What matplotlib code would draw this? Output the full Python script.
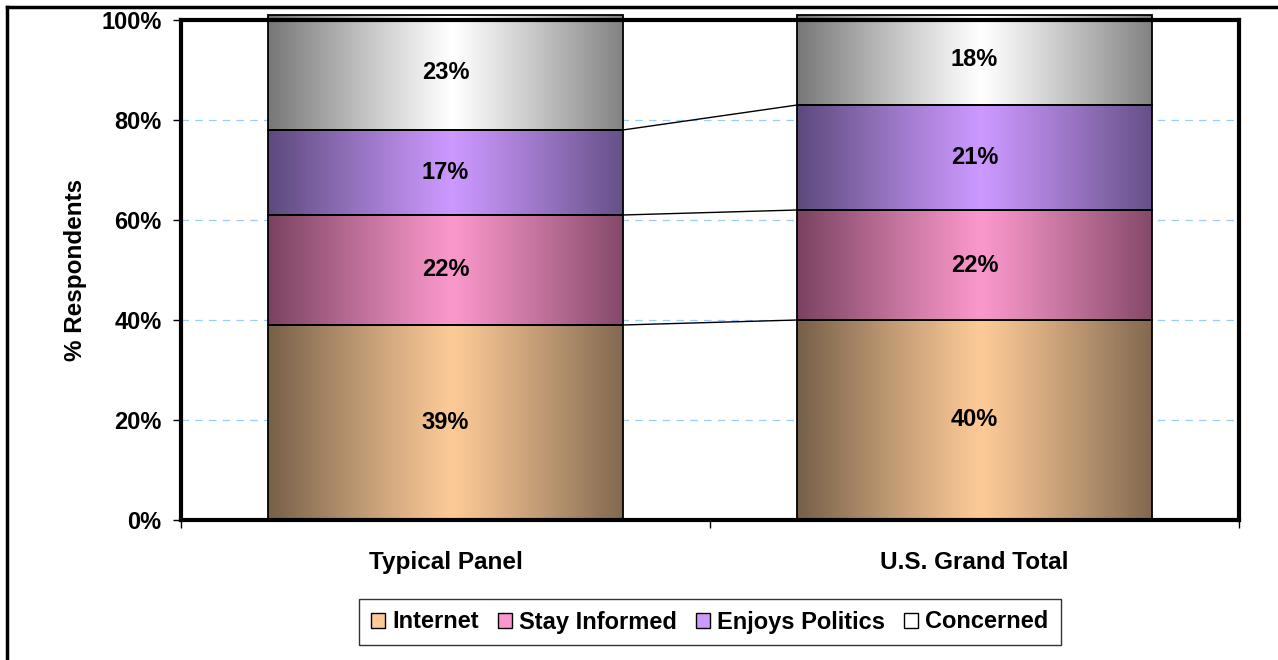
import numpy as np
import matplotlib
matplotlib.use("Agg")
import matplotlib.pyplot as plt
from matplotlib.colors import to_rgb
from matplotlib.patches import Patch
from matplotlib.lines import Line2D
from matplotlib.ticker import FixedLocator, PercentFormatter

# ---- data ----
categories = ["Typical Panel", "U.S. Grand Total"]
series_names = ["Internet", "Stay Informed", "Enjoys Politics", "Concerned"]
internet = [39, 40]
stay_informed = [22, 22]
enjoys_politics = [17, 21]
concerned = [23, 18]
yticks = [0, 20, 40, 60, 80, 100]

values = [internet, stay_informed, enjoys_politics, concerned]
center_colors = ["#FDCA97", "#FA98CB", "#CC99FF", "#FFFFFF"]
edge_colors = ["#766049", "#7A4260", "#5C4A7C", "#777777"]

plt.rcParams['font.family'] = ['Liberation Sans', 'DejaVu Sans']
plt.rcParams['font.weight'] = 'bold'

fig = plt.figure(figsize=(12.78, 6.6), dpi=100)
ax = fig.add_axes([181 / 1278, 1 - 520 / 660, (1239 - 181) / 1278, 500 / 660])

x = np.arange(len(categories))
width = 0.67

# gridlines
for yv in yticks[1:-1]:
    ax.axhline(yv, color="#99CCFF", lw=0.9, ls=(0, (6, 5)), zorder=0)

def gradient_rgba(c_center, c_edge, n=256):
    t = np.linspace(0, 1, n)
    d = np.abs(t - 0.52) / 0.52
    d = np.clip(d, 0, 1) ** 1.1
    cc = np.array(to_rgb(c_center))
    ce = np.array(to_rgb(c_edge))
    cols = cc[None, :] * (1 - d[:, None]) + ce[None, :] * d[:, None]
    return cols[None, :, :]

bottoms = np.zeros(len(categories))
tops_list = []
for i, (name, vals) in enumerate(zip(series_names, values)):
    vals = np.array(vals, dtype=float)
    bars = ax.bar(x, vals, width, bottom=bottoms, facecolor="none",
                  edgecolor="black", linewidth=1.3, zorder=3, clip_on=False)
    img = gradient_rgba(center_colors[i], edge_colors[i])
    for b in bars:
        x0, y0 = b.get_x(), b.get_y()
        ax.imshow(img, extent=[x0, x0 + b.get_width(), y0, y0 + b.get_height()],
                  aspect='auto', zorder=2, interpolation='bilinear', clip_on=False)
        ax.text(x0 + b.get_width() / 2, y0 + b.get_height() / 2,
                f"{int(round(b.get_height()))}%", ha='center', va='center',
                fontsize=17, fontweight='bold', zorder=5)
    bottoms = bottoms + vals
    tops_list.append(bottoms.copy())

# series lines
for tops in tops_list[:-1]:
    ax.plot([x[0] + width / 2, x[1] - width / 2], [tops[0], tops[1]],
            color='black', lw=1.0, zorder=4)

ax.set_xlim(-0.5, 1.5)
ax.set_ylim(0, 100)

# axes styling
for s in ax.spines.values():
    s.set_linewidth(3)
    s.set_color('black')
    s.set_zorder(6)

ax.yaxis.set_major_locator(FixedLocator(yticks))
ax.yaxis.set_major_formatter(PercentFormatter(decimals=0))
ax.tick_params(axis='y', direction='out', length=6, width=1, labelsize=17, pad=8)
ax.set_xticks(x)
ax.set_xticklabels(categories, fontsize=17.5, fontweight='bold')
ax.tick_params(axis='x', which='major', length=0, pad=22)
ax.set_xticks([-0.5, 0.5, 1.5], minor=True)
ax.tick_params(axis='x', which='minor', direction='out', length=6, width=1)
for lab in ax.get_yticklabels():
    lab.set_fontweight('bold')
ax.set_ylabel("% Respondents", fontsize=17.5, fontweight='bold', labelpad=10)

# legend
handles = [Patch(facecolor=center_colors[i], edgecolor='black', linewidth=1.0)
           for i in range(len(series_names))]
leg = fig.legend(handles, series_names, loc='center', bbox_to_anchor=(710 / 1278, 1 - 622 / 660),
                 ncol=4, frameon=True, fancybox=False, shadow=False, fontsize=17,
                 handlelength=0.6, handleheight=0.6, handletextpad=0.3, columnspacing=0.8,
                 borderpad=0.5, borderaxespad=0)
leg.get_frame().set_edgecolor('black')
leg.get_frame().set_linewidth(1.0)
for t in leg.get_texts():
    t.set_fontweight('bold')

# figure frame (left and top lines)
fig.add_artist(Line2D([7 / 1278, 7 / 1278], [0, 1 - 7 / 660], transform=fig.transFigure,
                      color='black', lw=2.5))
fig.add_artist(Line2D([7 / 1278, 1], [1 - 7 / 660, 1 - 7 / 660], transform=fig.transFigure,
                      color='black', lw=2.5))

fig.savefig("out.png", dpi=100)
